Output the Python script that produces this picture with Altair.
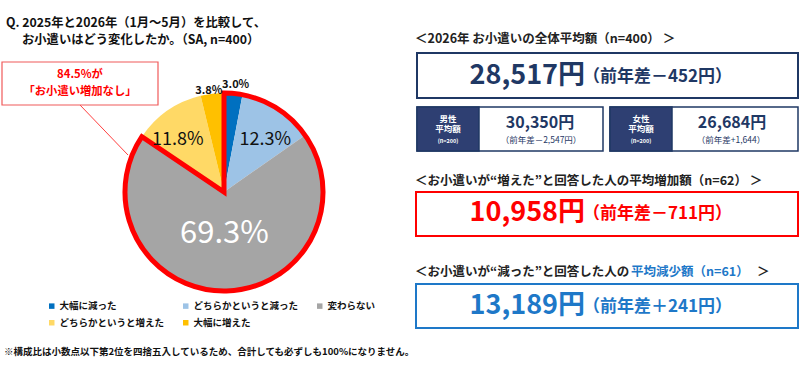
import altair as alt
import pandas as pd

# ---- data ----
categories = ["大幅に減った", "どちらかというと減った", "変わらない", "どちらかというと増えた", "大幅に増えた"]
shares = [3.0, 12.3, 69.3, 11.8, 3.8]
colors = ["#0070C0", "#9DC3E6", "#A5A5A5", "#FFD966", "#FFC000"]

group_names = ["増加なし", "増加"]
group_members = [categories[:3], categories[3:]]

avg_total = "28,517円"
avg_total_diff = "（前年差－452円）"
avg_male = "30,350円"
avg_male_diff = "（前年差－2,547円）"
avg_female = "26,684円"
avg_female_diff = "（前年差+1,644）"
avg_up = "10,958円"
avg_up_diff = "（前年差－711円）"
avg_down = "13,189円"
avg_down_diff = "（前年差＋241円）"

FONT = "Noto Sans CJK JP"
NAVY = "#1F3864"
RED = "#FF0000"
BLUE = "#1E78C8"

pie_df = pd.DataFrame({
    "cat": categories,
    "val": shares,
    "idx": list(range(len(categories))),
    "lbl": [f"{v:.1f}%" for v in shares],
})
grp_df = pd.DataFrame({
    "grp": group_names,
    "val": [sum(shares[categories.index(c)] for c in m) for m in group_members],
    "idx": [0, 1],
})
one = pd.DataFrame({"a": [0]})

CX, CY, R = 224, 192, 99

base = alt.Chart(pie_df).encode(
    theta=alt.Theta("val:Q", stack=True),
    order=alt.Order("idx:Q"),
    x=alt.value(CX), y=alt.value(CY),
)

pie = base.mark_arc(radius=R).encode(
    color=alt.Color("cat:N", scale=alt.Scale(domain=categories, range=colors),
                    legend=alt.Legend(title=None, orient="none", legendX=47, legendY=301,
                                      direction="horizontal",
                                      columns=3, symbolType="square", symbolSize=30,
                                      labelFont=FONT, labelFontSize=9.5, labelFontWeight="bold",
                                      labelColor="#111", labelOffset=3, columnPadding=16,
                                      rowPadding=6, gridAlign="all", padding=0,
                                      symbolStrokeWidth=0))
)

outline = alt.Chart(grp_df).mark_arc(radius=R, fillOpacity=0, strokeWidth=5,
                                     strokeJoin="miter").encode(
    theta=alt.Theta("val:Q", stack=True),
    order=alt.Order("idx:Q"),
    x=alt.value(CX), y=alt.value(CY),
    stroke=alt.condition(f"datum.grp == '{group_names[0]}'", alt.value(RED), alt.value("transparent")),
)


def pie_label(cat, radius, size, color, weight, dx=0, dy=0):
    return base.mark_text(radius=radius, fontSize=size, font=FONT, fontWeight=weight,
                          color=color, dx=dx, dy=dy).encode(
        text=alt.condition(f"datum.cat == '{cat}'", alt.Text("lbl:N"), alt.value(""))
    )


labels = [
    pie_label(categories[0], 108, 11, "#111", "bold", dx=1.5, dy=1),
    pie_label(categories[1], 67, 18, "#111", "normal", dx=5, dy=4),
    pie_label(categories[2], 42, 31, "white", "normal"),
    pie_label(categories[3], 67, 18, "#111", "normal", dx=-8, dy=3),
    pie_label(categories[4], 102, 11, "#111", "bold", dx=-3, dy=0),
]


def txt(x, y, s, size, color="#111", weight="bold", align="left"):
    return alt.Chart(one).mark_text(font=FONT, fontSize=size, fontWeight=weight, color=color,
                                    align=align, baseline="middle").encode(
        x=alt.value(x), y=alt.value(y), text=alt.value(s))


def box(x1, x2, y1, y2, stroke, fill="white", sw=1.5):
    return alt.Chart(one).mark_rect(fill=fill, stroke=stroke, strokeWidth=sw).encode(
        x=alt.value(x1), x2=alt.value(x2), y=alt.value(y1), y2=alt.value(y2))


layers = []
# title
layers += [
    txt(6, 22.5, "Q. 2025年と2026年（1月～5月）を比較して、", 12.3),
    txt(22, 40, "お小遣いはどう変化したか。（SA, n=400）", 12.3),
]
# callout
layers += [
    alt.Chart(one).mark_rule(color="#FF4040", strokeWidth=1).encode(
        x=alt.value(80), y=alt.value(105), x2=alt.value(128), y2=alt.value(155)),
    box(2, 158, 62, 105, "#F05A5A", sw=1.2),
    txt(80, 75, "84.5%が", 11.3, RED, align="center"),
    txt(80, 91.5, "「お小遣い増加なし」", 11.3, RED, align="center"),
]
# pie
layers += [pie, outline] + labels
# footnote
layers += [txt(4, 352, "※構成比は小数点以下第2位を四捨五入しているため、合計しても必ずしも100%になりません。", 9.5)]

# right panel
layers += [
    txt(415, 39, "＜2026年 お小遣いの全体平均額（n=400） ＞", 12.5, "#222"),
    box(417, 798, 53, 98, NAVY, sw=2),
    txt(585, 76, avg_total, 27, NAVY, align="right"),
    txt(583, 77, avg_total_diff, 17, NAVY),
    # male
    box(417, 603, 107, 151, NAVY, sw=1.5),
    box(417, 479, 107, 151, NAVY, fill="#2E3F72", sw=1.5),
    txt(448, 118.5, "男性", 8.5, "white", align="center"),
    txt(448, 129, "平均額", 8.5, "white", align="center"),
    txt(448, 140.5, "(n=200)", 5.5, "white", align="center"),
    txt(540, 123, avg_male, 16, NAVY, align="center"),
    txt(541, 139.5, avg_male_diff, 8.5, NAVY, weight="normal", align="center"),
    # female
    box(610, 798, 107, 151, NAVY, sw=1.5),
    box(610, 672, 107, 151, NAVY, fill="#2E3F72", sw=1.5),
    txt(641, 118.5, "女性", 8.5, "white", align="center"),
    txt(641, 129, "平均額", 8.5, "white", align="center"),
    txt(641, 140.5, "(n=200)", 5.5, "white", align="center"),
    txt(732, 123, avg_female, 16, NAVY, align="center"),
    txt(731, 139.5, avg_female_diff, 8.5, NAVY, weight="normal", align="center"),
    # increased
    txt(415, 181, "＜お小遣いが“増えた”と回答した人の平均増加額（n=62） ＞", 12.5, "#222"),
    box(416, 798, 192, 236, RED, sw=2),
    txt(585, 213, avg_up, 27, RED, align="right"),
    txt(583, 214, avg_up_diff, 17, RED),
    # decreased
    txt(415, 272, "＜お小遣いが“減った”と回答した人の", 12.5, "#222"),
    txt(631, 272, "平均減少額（n=61）", 12.5, BLUE),
    txt(757, 272, "＞", 12.5, "#222"),
    box(416, 798, 284, 328, BLUE, sw=2),
    txt(585, 306, avg_down, 27, BLUE, align="right"),
    txt(583, 307, avg_down_diff, 17, BLUE),
]

chart = alt.layer(*layers).properties(
    width=800, height=374, padding=0, autosize=alt.AutoSizeParams(type="none"),
    background="white",
).configure_view(strokeWidth=0)

chart.save("out.html", embed_options={"renderer": "svg", "actions": False})
